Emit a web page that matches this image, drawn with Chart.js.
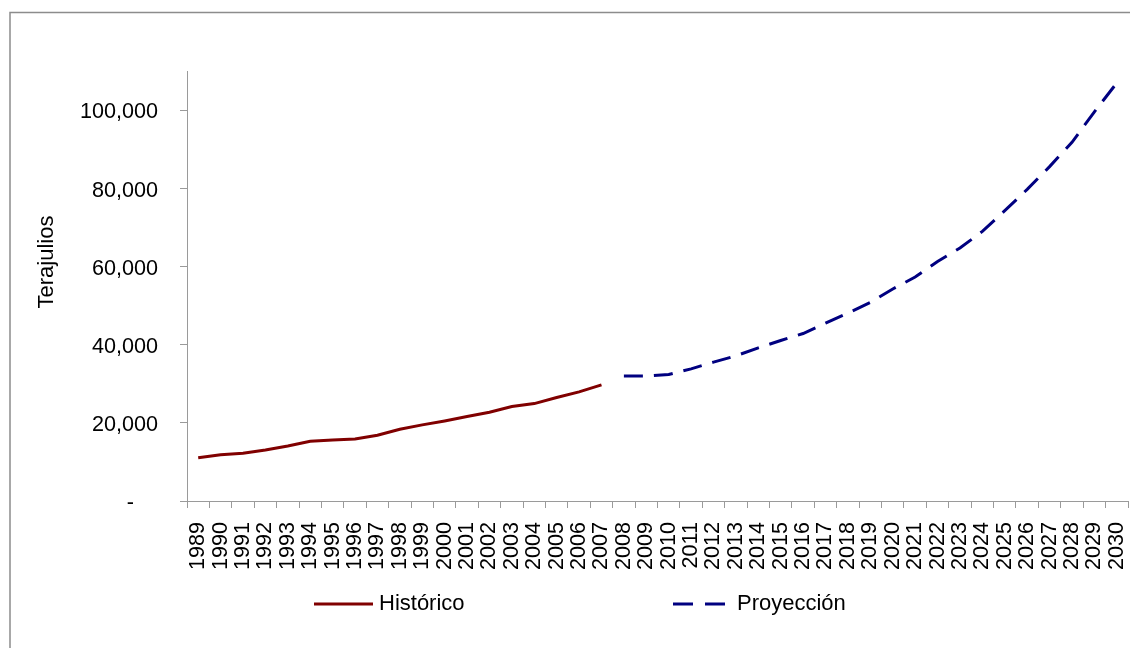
<!DOCTYPE html>
<html>
<head>
<meta charset="utf-8">
<script src="https://cdn.jsdelivr.net/npm/chart.js@4/dist/chart.umd.min.js"></script>
<style>
  html, body { margin: 0; padding: 0; background: #fff; }
  canvas { display: block; }
</style>
</head>
<body>
<canvas id="chart" width="1130" height="648"></canvas>
<script>
// Years on the category axis
const years = [
  '1989','1990','1991','1992','1993','1994','1995','1996','1997','1998',
  '1999','2000','2001','2002','2003','2004','2005','2006','2007','2008',
  '2009','2010','2011','2012','2013','2014','2015','2016','2017','2018',
  '2019','2020','2021','2022','2023','2024','2025','2026','2027','2028',
  '2029','2030'
];

// Recorded consumption, 1989-2007 (terajoules)
const historico = [
  11100, 11870, 12230, 13080, 14100, 15300, 15640, 15900, 16850, 18380,
  19490, 20510, 21620, 22740, 24180, 24950, 26490, 27950, 29740
];

// Projected consumption, 2008-2030 (terajoules)
const proyeccion = [
  32000, 32000, 32400, 33850, 35560, 37180, 39230, 41100, 42900, 45560,
  48120, 50850, 54300, 57350, 61360, 64790, 69050, 74360, 79820, 85640,
  91870, 99660, 107090
];

const yTicks = [0, 20000, 40000, 60000, 80000, 100000];
const yTitle = 'Terajulios';
const seriesNames = ['Histórico', 'Proyección'];

const FONT = "'Liberation Sans', Arial, sans-serif";
const AXIS_GREY = '#9a9a9a';

// Gray frame around the whole figure
const framePlugin = {
  id: 'frame',
  beforeDraw(chart) {
    const ctx = chart.ctx;
    ctx.save();
    ctx.fillStyle = '#fff';
    ctx.fillRect(0, 0, chart.width, chart.height);
    ctx.strokeStyle = '#8c8c8c';
    ctx.lineWidth = 1.5;
    ctx.strokeRect(10, 12.5, chart.width + 20, chart.height + 20);
    ctx.restore();
  }
};

// Vertical axis title
const yTitlePlugin = {
  id: 'yTitle',
  afterDraw(chart) {
    const ctx = chart.ctx;
    ctx.save();
    ctx.translate(47, 262);
    ctx.rotate(-Math.PI / 2);
    ctx.font = '22px ' + FONT;
    ctx.fillStyle = '#000';
    ctx.textAlign = 'center';
    ctx.textBaseline = 'middle';
    ctx.fillText(yTitle, 0, 0);
    ctx.restore();
  }
};

// Legend below the axis: line sample + name for each series
const legendPlugin = {
  id: 'seriesLegend',
  afterDraw(chart) {
    const ctx = chart.ctx;
    const slots = [
      { x0: 314, x1: 373, tx: 379 },
      { x0: 673, x1: 725, tx: 737 }
    ];
    const y = 604;
    chart.data.datasets.forEach((ds, i) => {
      const s = slots[i];
      ctx.save();
      ctx.strokeStyle = ds.borderColor;
      ctx.lineWidth = ds.borderWidth;
      ctx.setLineDash(i === 1 ? [20, 12] : []);
      ctx.beginPath();
      ctx.moveTo(s.x0, y);
      ctx.lineTo(s.x1, y);
      ctx.stroke();
      ctx.setLineDash([]);
      ctx.font = '22px ' + FONT;
      ctx.fillStyle = '#000';
      ctx.textAlign = 'left';
      ctx.textBaseline = 'middle';
      ctx.fillText(ds.label, s.tx, y);
      ctx.restore();
    });
  }
};

const padNulls = n => Array(n).fill(null);

new Chart(document.getElementById('chart'), {
  type: 'line',
  data: {
    labels: years,
    datasets: [
      {
        label: seriesNames[0],
        data: historico.concat(padNulls(proyeccion.length)),
        borderColor: '#800000',
        borderWidth: 3,
        pointRadius: 0,
        tension: 0,
        spanGaps: false
      },
      {
        label: seriesNames[1],
        data: padNulls(historico.length).concat(proyeccion),
        borderColor: '#000080',
        borderWidth: 3,
        borderDash: [19, 11],
        borderCapStyle: 'butt',
        pointRadius: 0,
        tension: 0,
        spanGaps: false
      }
    ]
  },
  options: {
    responsive: false,
    animation: false,
    events: [],
    layout: { padding: { top: 71.5, right: 2, left: 0, bottom: 0 } },
    plugins: {
      legend: { display: false },
      tooltip: { enabled: false },
      title: { display: false }
    },
    scales: {
      x: {
        type: 'category',
        offset: true,
        afterFit(scale) {
          scale.height = 147;
          scale.paddingLeft = 0;
          scale.paddingRight = 0;
        },
        border: { display: true, color: AXIS_GREY, width: 1 },
        grid: {
          display: true,
          offset: true,
          drawOnChartArea: false,
          drawTicks: true,
          tickLength: 7,
          color: AXIS_GREY
        },
        ticks: {
          autoSkip: false,
          minRotation: 90,
          maxRotation: 90,
          padding: 14,
          color: '#000',
          font: { family: FONT, size: 21.6 }
        }
      },
      y: {
        min: 0,
        max: 110000,
        afterFit(scale) {
          scale.width = 187;
          scale.paddingTop = 0;
          scale.paddingBottom = 0;
        },
        afterBuildTicks(scale) {
          scale.ticks = yTicks.map(v => ({ value: v }));
        },
        border: { display: true, color: AXIS_GREY, width: 1 },
        grid: {
          display: true,
          drawOnChartArea: false,
          drawTicks: true,
          tickLength: 7,
          color: AXIS_GREY
        },
        ticks: {
          padding: 22,
          labelOffset: 2,
          color: '#000',
          font: { family: FONT, size: 21.6 },
          callback(value) {
            return value === 0 ? '-\u2007\u2007' : value.toLocaleString('en-US');
          }
        }
      }
    }
  },
  plugins: [framePlugin, yTitlePlugin, legendPlugin]
});
</script>
</body>
</html>
